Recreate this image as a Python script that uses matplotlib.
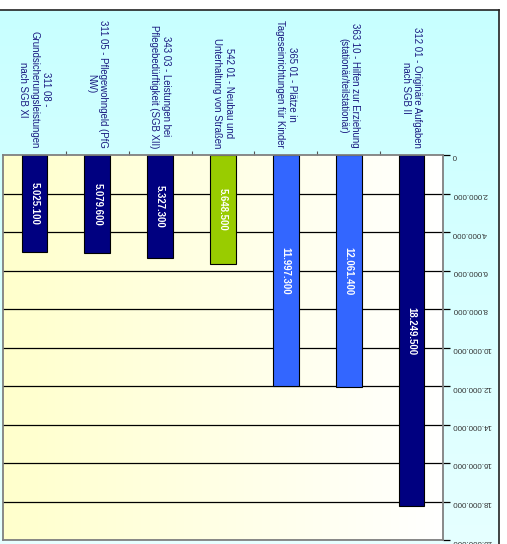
import numpy as np
import matplotlib
matplotlib.use('Agg')
import matplotlib.pyplot as plt

plt.rcParams['font.family'] = ['Liberation Sans', 'DejaVu Sans']

# Daten (von links nach rechts)
categories = [
    '311 08 -\nGrundsicherungsleistungen\nnach SGB XI',
    '311 05 - Pflegewohngeld (PfG\nNW)',
    '343 03 - Leistungen bei\nPflegebedürftigkeit (SGB XII)',
    '542 01 - Neubau und\nUnterhaltung von Straßen',
    '365 01 - Plätze in\nTageseinrichtungen für Kinder',
    '363 10 - Hilfen zur Erziehung\n(stationär/teilstationär)',
    '312 01 - Originäre Aufgaben\nnach SGB II',
]
values = [5025100, 5079600, 5327300, 5648500, 11997300, 12061400, 18249500]
colors = ['#000080', '#000080', '#000080', '#99CC00', '#3366FF', '#3366FF', '#000080']
yticks = list(range(0, 20000001, 2000000))


def de_fmt(v):
    return f'{v:,}'.replace(',', '.')


W, H = 507, 544
fig = plt.figure(figsize=(W / 100, H / 100), dpi=100)
fig.patch.set_facecolor('white')

# Hintergrund der Grafik
bg = fig.add_axes([0, 0, 499 / W, 534 / H])
grad = np.linspace(0, 1, 256).reshape(-1, 1)
bg.imshow(grad, extent=[0, 1, 0, 1], aspect='auto',
          cmap=matplotlib.colors.LinearSegmentedColormap.from_list('c', ['#C8FFFF', '#E6FFFF']))
bg.set_xlim(0, 1)
bg.set_ylim(0, 1)
bg.set_xticks([])
bg.set_yticks([])
for side in ['left', 'bottom']:
    bg.spines[side].set_visible(False)
for side in ['top', 'right']:
    bg.spines[side].set_color('#222222')
    bg.spines[side].set_linewidth(1.2)

# Zeichenfläche
ax = fig.add_axes([3 / W, 4 / H, 440 / W, 385 / H])
x = np.arange(len(values))
ax.set_xlim(-0.5, len(values) - 0.5)
ax.set_ylim(20000000, 0)

ygrad = np.linspace(0, 1, 256).reshape(1, -1)
ax.imshow(ygrad, extent=[-0.5, len(values) - 0.5, 20000000, 0], aspect='auto', zorder=0,
          cmap=matplotlib.colors.LinearSegmentedColormap.from_list('y', ['#FFFFCC', '#FFFFFF']))

for t in yticks[1:]:
    ax.axhline(t, color='black', lw=0.9, zorder=1)

ax.bar(x, values, width=0.41, color=colors, edgecolor='black', linewidth=0.8, zorder=2)

for xi, v in zip(x, values):
    ax.text(xi, v / 2, de_fmt(v), rotation=-90, ha='center', va='center',
            color='white', fontsize=6.9, fontweight='bold', zorder=3)

for xi, lab in zip(x, categories):
    ax.annotate(lab, xy=(xi, 1), xycoords=('data', 'axes fraction'),
                xytext=(0, 5), textcoords='offset points',
                rotation=-90, ha='center', va='bottom', multialignment='center',
                color='#1a1a80', fontsize=6.9, linespacing=1.2)

ax.yaxis.tick_right()
ax.set_yticks(yticks)
ax.set_yticklabels([de_fmt(t) for t in yticks], rotation=180, fontsize=5.8, color='#333333')
ax.tick_params(axis='y', direction='out', length=5, width=0.9, color='black', pad=1.5)

ax.xaxis.tick_top()
ax.set_xticks(x[:-1] + 0.5)
ax.set_xticklabels([])
ax.tick_params(axis='x', direction='out', length=3, width=0.8, color='#555555')

for s in ax.spines.values():
    s.set_color('#808080')
    s.set_linewidth(1.3)

fig.savefig('out.png', dpi=100)
